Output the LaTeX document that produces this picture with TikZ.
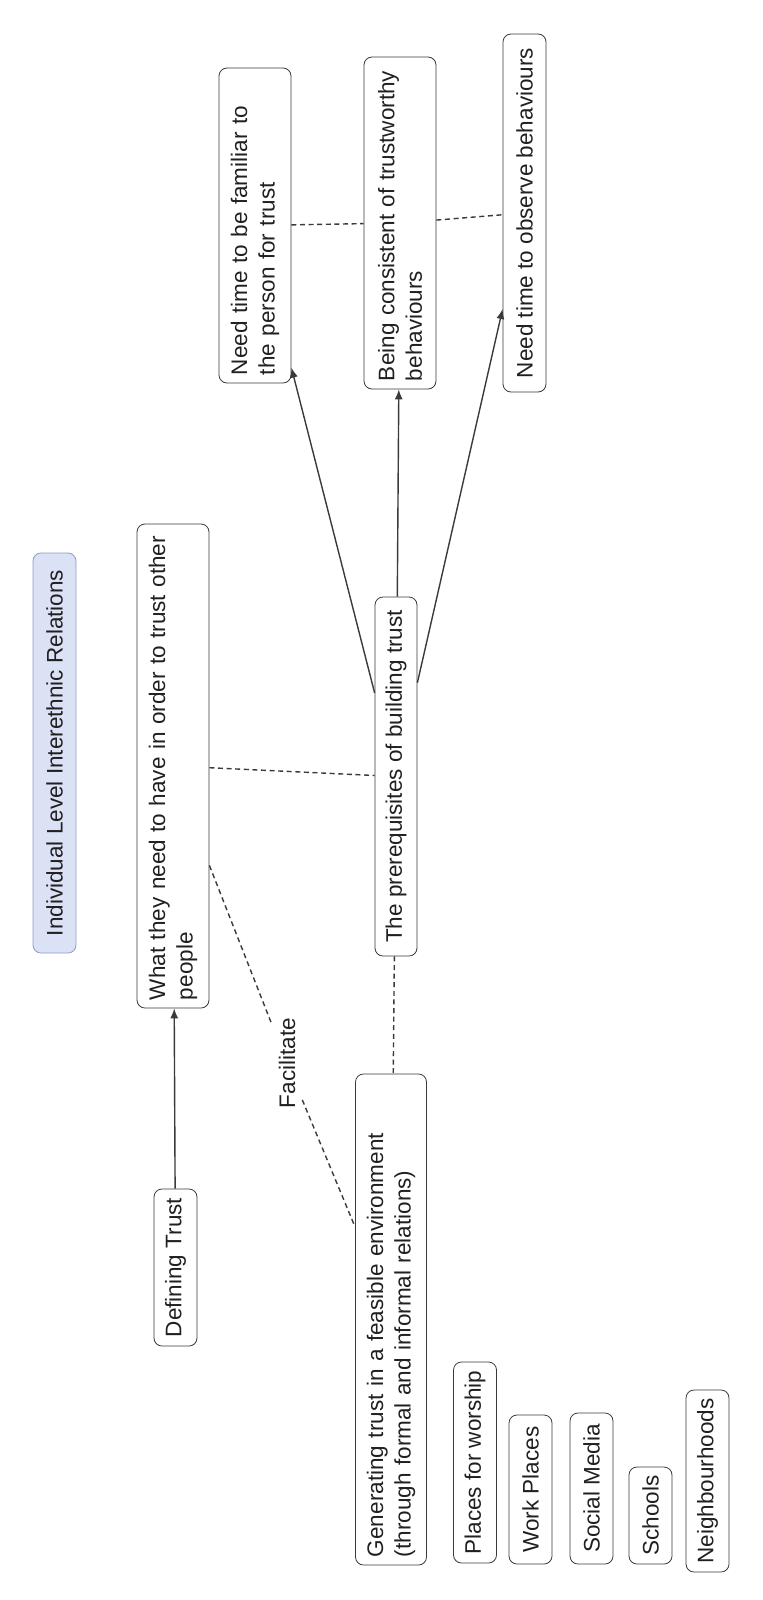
\documentclass[tikz,border=0pt]{standalone}
\usepackage{fontspec}
\setmainfont{Liberation Sans}
\usepackage{xcolor}
\usepackage{tikz}
\usetikzlibrary{arrows.meta,calc}

\definecolor{boxline}{HTML}{3A3A3A}
\definecolor{textc}{HTML}{202020}
\definecolor{titlefill}{HTML}{DCE2F6}
\definecolor{titleline}{HTML}{8E9BC4}

\begin{document}
\begin{tikzpicture}[
x=0.5pt, y=-0.5pt,
box/.style={draw=boxline, rounded corners=4pt, rotate=90, fill=white, inner xsep=4pt, inner ysep=3pt, minimum height=21.5pt, align=left, text=textc, font=\fontsize{11.25}{13.75}\selectfont},
head/.style={box, draw=titleline, fill=titlefill},
arr/.style={-{Latex[length=5pt,width=4pt]}, draw=boxline, line width=0.7pt},
dsh/.style={draw=boxline, line width=0.7pt, dash pattern=on 2.5pt off 1.8pt}
]
\useasboundingbox (0,0) rectangle (763,1600);

\node[head, minimum width=200pt] (title) at (54.5,753) {Individual Level Interethnic Relations};
\node[box, minimum height=36pt, text width=234pt] (need) at (173,766) {What they need to have in order to trust other\\people};
\node[box, minimum width=179.5pt, minimum height=21pt] (prereq) at (396,776.5) {The prerequisites of building trust};
\node[box, minimum height=36pt, text width=149.5pt] (familiar) at (255,225.5) {Need time to be familiar to\\the person for trust};
\node[box, minimum height=36pt, text width=158pt] (consistent) at (400,223) {Being consistent of trustworthy\\behaviours};
\node[box, minimum width=179pt] (observe) at (524.5,213) {Need time to observe behaviours};
\node[box, minimum width=78.5pt] (defining) at (175.5,1267.5) {Defining Trust};
\node[box, minimum height=35.5pt, text width=237.5pt] (generating) at (391,1319.5) {Generating trust in a feasible environment\\(through formal and informal relations)};
\node[box, minimum width=100.5pt] (worship) at (475,1462.5) {Places for worship};
\node[box, minimum width=74.5pt] (work) at (530.5,1489.5) {Work Places};
\node[box, minimum width=75.5pt] (social) at (591.5,1488.5) {Social Media};
\node[box, minimum width=48.5pt] (schools) at (650.5,1515.5) {Schools};
\node[box, minimum width=91pt] (neighbour) at (707.5,1481) {Neighbourhoods};
\node[rotate=90, inner xsep=6pt, text=textc, font=\fontsize{11.25}{13.75}\selectfont] (facil) at (287,1063) {Facilitate};

\draw[arr] (prereq) -- (familiar);
\draw[arr] (prereq) -- (consistent);
\draw[arr] (prereq) -- (observe);
\draw[arr] (defining) -- (need);
\draw[dsh] (familiar) -- (consistent);
\draw[dsh] (consistent) -- (observe);
\draw[dsh] (need) -- (prereq);
\draw[dsh] (prereq) -- (generating);
\draw[dsh] ($(need.south west)!0.295!(need.south east)$) -- (facil);
\draw[dsh] (facil) -- ($(generating.north east)!0.312!(generating.north west)$);
\end{tikzpicture}
\end{document}
